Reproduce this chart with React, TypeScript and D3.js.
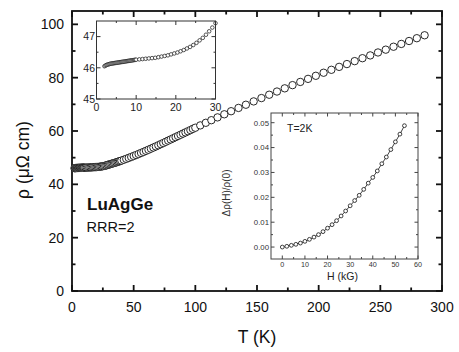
import React from "react";
import * as d3 from "d3";

// ---------- data ----------
const mainT = [
  2.0, 2.5, 3.0, 3.5, 4.0, 4.5, 5.0, 5.5, 6.0, 6.5, 7.0, 7.5, 8.0, 8.5, 9.0, 9.5, 10,
  11, 12, 13, 14, 15, 16, 17, 18, 19, 20, 21, 22, 23, 24, 25, 26, 27, 28, 29, 30,
  31, 32, 33, 34, 35, 36, 37, 38, 39, 40,
  42, 44, 46, 48, 50, 52, 54, 56, 58, 60, 62, 64, 66, 68, 70, 72, 74, 76, 78, 80,
  82, 84, 86, 88, 90, 92, 94, 96, 98, 100,
  104, 108.5, 113, 118, 123.5, 129, 135, 141, 147.3, 153.6, 159.9, 166.2, 172.5,
  178.8, 185.1, 191.4, 197.7, 204, 210.3, 216.6, 222.9, 229.2, 235.5, 241.8, 248.1,
  254.4, 260.7, 267, 273.3, 279.6, 285.9,
];
const mainRho = [
  46.05, 46.08, 46.1, 46.12, 46.13, 46.15, 46.16, 46.17, 46.18, 46.19, 46.2, 46.21, 46.22, 46.23, 46.24, 46.25, 46.26,
  46.27, 46.29, 46.3, 46.32, 46.34, 46.37, 46.4, 46.44, 46.46, 46.48, 46.52, 46.57, 46.64, 46.71, 46.79, 46.88, 46.99, 47.15, 47.29, 47.43,
  47.56, 47.7, 47.84, 47.98, 48.12, 48.27, 48.42, 48.57, 48.73, 48.9,
  49.22, 49.56, 49.91, 50.27, 50.63, 51.0, 51.38, 51.77, 52.16, 52.56, 52.97, 53.38, 53.8, 54.22, 54.65, 55.08, 55.51, 55.95, 56.39, 56.83,
  57.27, 57.71, 58.15, 58.59, 59.03, 59.47, 59.91, 60.35, 60.79, 61.23,
  62.1, 63.08, 64.05, 65.11, 66.27, 67.42, 68.65, 69.85, 71.1, 72.35, 73.6, 74.8, 76.0,
  77.2, 78.4, 79.55, 80.7, 81.85, 82.95, 84.05, 85.1, 86.2, 87.3, 88.35, 89.45,
  90.5, 91.6, 92.65, 93.75, 94.8, 95.9,
];

const insetT = [
  2.0, 2.25, 2.5, 2.75, 3.0, 3.25, 3.5, 3.75, 4.0, 4.25, 4.5, 4.75, 5.0, 5.25, 5.5, 5.75,
  6.0, 6.25, 6.5, 6.75, 7.0, 7.25, 7.5, 7.75, 8.0, 8.25, 8.5, 8.75, 9.0, 9.25, 9.5, 9.75, 10.0,
  10.8, 11.6, 12.4, 13.2, 14.0, 14.8, 15.6, 16.4, 17.2, 18.0, 18.8, 19.6, 20.4, 21.2, 22.0,
  22.8, 23.6, 24.4, 25.2, 26.0, 26.8, 27.6, 28.4, 29.2, 30.0,
];
const insetRho = [
  46.05, 46.07, 46.09, 46.1, 46.11, 46.12, 46.13, 46.135, 46.14, 46.145, 46.15, 46.155, 46.16, 46.165, 46.17, 46.175,
  46.18, 46.185, 46.19, 46.195, 46.2, 46.205, 46.21, 46.215, 46.22, 46.225, 46.23, 46.235, 46.24, 46.245, 46.25, 46.255, 46.26,
  46.27, 46.28, 46.29, 46.3, 46.31, 46.32, 46.34, 46.36, 46.38, 46.4, 46.43, 46.46, 46.49, 46.53, 46.57,
  46.62, 46.67, 46.73, 46.8, 46.88, 46.96, 47.06, 47.17, 47.29, 47.43,
];

const fieldH = [0, 2, 4, 6, 8, 10, 12, 14, 16, 18, 20, 22, 24, 26, 28, 30, 32, 34, 36, 38, 40, 42, 44, 46, 48, 50, 52, 54];
const magnetoR = [
  0.0, 0.0003, 0.0007, 0.0011, 0.0016, 0.0023, 0.0031, 0.004, 0.005, 0.0062, 0.0076, 0.009, 0.0106, 0.0125,
  0.0145, 0.0166, 0.0187, 0.0208, 0.0232, 0.0257, 0.028, 0.0306, 0.0335, 0.0362, 0.0392, 0.0423, 0.0454, 0.0488,
];

const mainXTicks = [0, 50, 100, 150, 200, 250, 300];
const mainYTicks = [0, 20, 40, 60, 80, 100];
const inset1XTicks = [0, 10, 20, 30];
const inset1YTicks = [45, 46, 47];
const inset2XTicks = [0, 10, 20, 30, 40, 50, 60];
const inset2YTicks = [0, 0.01, 0.02, 0.03, 0.04, 0.05];

const FONT = "'Liberation Sans', Arial, Helvetica, sans-serif";

type Scale = d3.ScaleLinear<number, number>;

function Frame({ x, y, ticksX, ticksY, minorX, minorY, major, minor, stroke, sw, fmtX, fmtY, fs, fsX, color, xLabDy, yLabDx }: any) {
  const [x0, x1] = x.range();
  const [y0, y1] = y.range(); // y0 bottom, y1 top
  const els: any[] = [];
  const tick = (key: string, x1_: number, y1_: number, x2_: number, y2_: number) =>
    els.push(<line key={key} x1={x1_} y1={y1_} x2={x2_} y2={y2_} stroke={stroke} strokeWidth={sw} />);
  minorX.forEach((v: number, i: number) => {
    const px = x(v);
    tick("mxb" + i, px, y0, px, y0 - minor);
    tick("mxt" + i, px, y1, px, y1 + minor);
  });
  minorY.forEach((v: number, i: number) => {
    const py = y(v);
    tick("myl" + i, x0, py, x0 + minor, py);
    tick("myr" + i, x1, py, x1 - minor, py);
  });
  ticksX.forEach((v: number, i: number) => {
    const px = x(v);
    tick("Mxb" + i, px, y0, px, y0 - major);
    tick("Mxt" + i, px, y1, px, y1 + major);
    els.push(
      <text key={"lx" + i} x={px} y={y0 + xLabDy} textAnchor="middle" fontSize={fsX || fs} fill={color} fontFamily={FONT}>
        {fmtX(v)}
      </text>
    );
  });
  ticksY.forEach((v: number, i: number) => {
    const py = y(v);
    tick("Myl" + i, x0, py, x0 + major, py);
    tick("Myr" + i, x1, py, x1 - major, py);
    els.push(
      <text key={"ly" + i} x={x0 - yLabDx} y={py} dy="0.36em" textAnchor="end" fontSize={fs} fill={color} fontFamily={FONT}>
        {fmtY(v)}
      </text>
    );
  });
  els.push(
    <rect key="frame" x={x0} y={y1} width={x1 - x0} height={y0 - y1} fill="none" stroke={stroke} strokeWidth={sw} />
  );
  return <g>{els}</g>;
}

export default function App() {
  // main plot scales
  const xM: Scale = d3.scaleLinear().domain([0, 300]).range([72, 442]);
  const yM: Scale = d3.scaleLinear().domain([0, 105]).range([291, 11]);
  // inset 1
  const xA: Scale = d3.scaleLinear().domain([0, 30]).range([96.5, 215.5]);
  const yA: Scale = d3.scaleLinear().domain([45, 47.5]).range([99, 21]);
  // inset 2
  const xB: Scale = d3.scaleLinear().domain([-5, 60]).range([271, 418]);
  const yB: Scale = d3.scaleLinear().domain([-0.0048, 0.0539]).range([259, 113]);

  const minorMainX = d3.range(25, 300, 50);
  const minorMainY = d3.range(10, 105, 20);
  const minorAX = d3.range(5, 30, 10);
  const minorAY = [45.5, 46.5];
  const minorBX = d3.range(5, 60, 10);
  const minorBY = [0.005, 0.015, 0.025, 0.035, 0.045];

  const lineB = d3
    .line<number>()
    .x((_, i) => xB(fieldH[i]))
    .y((v) => yB(v));

  return (
    <svg width={459} height={352} style={{ position: "absolute", left: 0, top: 0, background: "#fff" }}>
      <rect x={0} y={0} width={459} height={352} fill="#fff" />
      {/* main frame */}
      <Frame
        x={xM}
        y={yM}
        ticksX={mainXTicks}
        ticksY={mainYTicks}
        minorX={minorMainX}
        minorY={minorMainY}
        major={6}
        minor={3.5}
        stroke="#111"
        sw={1.8}
        fmtX={(v: number) => String(v)}
        fmtY={(v: number) => String(v)}
        fs={14}
        color="#111"
        xLabDy={21}
        yLabDx={8}
      />
      {/* main data */}
      <g>
        {mainT.map((t, i) => (
          <circle key={i} cx={xM(t)} cy={yM(mainRho[i])} r={3.7} fill="#fff" stroke="#111" strokeWidth={0.9} />
        ))}
      </g>
      {/* texts main */}
      <text x={257} y={343} textAnchor="middle" fontSize={17.5} fontFamily={FONT} fill="#111">
        T (K)
      </text>
      <text
        transform="translate(29,160) rotate(-90)"
        textAnchor="middle"
        fontSize={17.5}
        fontFamily={FONT}
        fill="#111"
      >
        ρ (μΩ cm)
      </text>
      <text x={87} y={210} fontSize={17} fontWeight="bold" fontFamily={FONT} fill="#111">
        LuAgGe
      </text>
      <text x={86.5} y={232} fontSize={14.5} fontFamily={FONT} fill="#111">
        RRR=2
      </text>

      {/* inset 1 */}
      <rect x={96.5} y={21} width={119} height={78} fill="#fff" />
      <g>
        {insetT.map((t, i) => (
          <circle key={i} cx={xA(t)} cy={yA(insetRho[i])} r={1.8} fill="#fff" stroke="#111" strokeWidth={0.7} />
        ))}
      </g>
      <Frame
        x={xA}
        y={yA}
        ticksX={inset1XTicks}
        ticksY={inset1YTicks}
        minorX={minorAX}
        minorY={minorAY}
        major={4}
        minor={2}
        stroke="#333"
        sw={1}
        fmtX={(v: number) => String(v)}
        fmtY={(v: number) => String(v)}
        fs={10.5}
        color="#222"
        xLabDy={11.5}
        yLabDx={1.5}
      />

      {/* inset 2 */}
      <rect x={271} y={113} width={147} height={146} fill="#fff" />
      <path d={lineB(magnetoR) || ""} fill="none" stroke="#111" strokeWidth={0.8} />
      <g>
        {fieldH.map((h, i) => (
          <circle key={i} cx={xB(h)} cy={yB(magnetoR[i])} r={1.9} fill="#fff" stroke="#111" strokeWidth={0.8} />
        ))}
      </g>
      <Frame
        x={xB}
        y={yB}
        ticksX={inset2XTicks}
        ticksY={inset2YTicks}
        minorX={minorBX}
        minorY={minorBY}
        major={3.5}
        minor={2}
        stroke="#444"
        sw={1}
        fmtX={(v: number) => String(v)}
        fmtY={(v: number) => d3.format(".2f")(v)}
        fs={7.8}
        fsX={7.2}
        color="#333"
        xLabDy={8}
        yLabDx={2}
      />
      <text x={287} y={131.5} fontSize={10.5} fontFamily={FONT} fill="#222">
        T=2K
      </text>
      <text x={342.5} y={279.5} textAnchor="middle" fontSize={10.5} fontFamily={FONT} fill="#222">
        H (kG)
      </text>
      <text
        transform="translate(230,193) rotate(-90)"
        textAnchor="middle"
        fontSize={10}
        fontFamily={FONT}
        fill="#333"
      >
        Δρ(H)/ρ(0)
      </text>
    </svg>
  );
}
